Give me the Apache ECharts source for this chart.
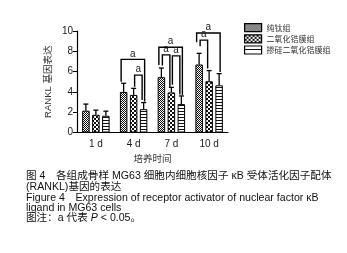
<!DOCTYPE html>
<html>
<head>
<meta charset="utf-8">
<script src="https://cdn.jsdelivr.net/npm/echarts@6/dist/echarts.min.js"></script>
<style>
  html, body { margin: 0; padding: 0; background: #fff; }
  #chart { width: 347px; height: 253px; }
</style>
</head>
<body>
<div id="chart"></div>
<script>
// RANKL expression per culture time and coating group
const categories = ['1 d', '4 d', '7 d', '10 d'];
const groupNames = ['纯钛组', '二氧化锆膜组', '掺硅二氧化锆膜组'];
const yTicks = [0, 2, 4, 6, 8, 10];

const pureTi = [2.15, 4.0, 5.45, 6.7];
const pureTiSD = [0.65, 0.85, 0.9, 1.1];
const zro2 = [1.75, 3.7, 3.95, 5.05];
const zro2SD = [0.45, 0.65, 0.5, 1.05];
const siZro2 = [1.65, 2.3, 2.8, 4.65];
const siZro2SD = [0.45, 0.65, 0.8, 1.15];

// significance brackets: category, bars joined, bar height and leg ends
const bracketCat = [1, 1, 2, 2, 2, 3, 3];
const bracketFrom = [0, 1, 0, 0, 1, 0, 0];
const bracketTo = [2, 2, 2, 1, 2, 2, 1];
const bracketTop = [7.2, 5.65, 8.4, 7.65, 7.55, 9.8, 9.1];
const bracketLeftEnd = [5.0, 4.5, 6.65, 6.6, 4.7, 8.9, 8.5];
const bracketRightEnd = [3.05, 3.2, 3.7, 4.5, 3.75, 5.95, 6.3];
const bracketLabel = 'a';

const means = [pureTi, zro2, siZro2];
const sds = [pureTiSD, zro2SD, siZro2SD];

const BAR_W = 7.5;
const BAR_STEP = 10;
const LATIN = '"Liberation Sans", Arial, "Noto Sans CJK SC", sans-serif';
const CJK = '"Noto Sans CJK SC", sans-serif';
const INK = '#1a1a1a';

function pattern(w, h, draw) {
  const c = document.createElement('canvas');
  c.width = w; c.height = h;
  const g = c.getContext('2d');
  g.fillStyle = '#fff';
  g.fillRect(0, 0, w, h);
  g.fillStyle = '#111';
  draw(g);
  return { image: c, repeat: 'repeat' };
}
const fineDots = pattern(2, 2, g => { g.fillRect(0, 0, 1, 1); g.fillRect(1, 1, 1, 1); });
const checker = pattern(4, 4, g => { g.fillRect(0, 0, 2, 2); g.fillRect(2, 2, 2, 2); });
const hLines = pattern(1, 3, g => { g.fillRect(0, 0, 1, 1); });
const hLineIcon = pattern(1, 8, g => { g.fillRect(0, 3, 1, 1); });
const fills = [fineDots, checker, hLines];

const barSeries = groupNames.map((name, i) => ({
  name: name,
  type: 'bar',
  data: means[i],
  barWidth: BAR_W,
  barGap: '33%',
  itemStyle: { color: fills[i], borderColor: '#000', borderWidth: 1 },
  emphasis: { disabled: true },
  z: 2
}));

const errData = [];
means.forEach((arr, g) => arr.forEach((m, c) => errData.push([c, m, sds[g][c], g])));

const errSeries = {
  type: 'custom',
  z: 4,
  clip: false,
  silent: true,
  encode: { x: 0, y: 1 },
  data: errData,
  renderItem: function (params, api) {
    const c = api.value(0), m = api.value(1), sd = api.value(2), g = api.value(3);
    const x = api.coord([c, 0])[0] + (g - 1) * BAR_STEP;
    const y0 = api.coord([c, m])[1];
    const y1 = api.coord([c, m + sd])[1];
    const st = { stroke: '#000', lineWidth: 1.3 };
    return {
      type: 'group',
      children: [
        { type: 'line', shape: { x1: x, y1: y0, x2: x, y2: y1 }, style: st },
        { type: 'line', shape: { x1: x - 2.5, y1: y1, x2: x + 2.5, y2: y1 }, style: st }
      ]
    };
  }
};

const bracketData = bracketCat.map((c, i) =>
  [c, bracketTop[i], bracketLeftEnd[i], bracketRightEnd[i], bracketFrom[i], bracketTo[i]]);

const bracketSeries = {
  type: 'custom',
  z: 5,
  clip: false,
  silent: true,
  encode: { x: 0, y: 1 },
  data: bracketData,
  renderItem: function (params, api) {
    const c = api.value(0);
    const from = api.value(4), to = api.value(5);
    const wide = (to - from) === 2;
    const cx = api.coord([c, 0])[0];
    const xl = cx + (from - 1) * BAR_STEP + (wide ? -2.5 : 1);
    const xr = cx + (to - 1) * BAR_STEP + (wide ? 1 : -1.5);
    const yt = api.coord([c, api.value(1)])[1];
    const yl = api.coord([c, api.value(2)])[1];
    const yr = api.coord([c, api.value(3)])[1];
    return {
      type: 'group',
      children: [
        {
          type: 'polyline',
          shape: { points: [[xl, yl], [xl, yt], [xr, yt], [xr, yr]] },
          style: { stroke: '#000', lineWidth: 1.4, fill: null }
        },
        {
          type: 'text',
          x: (xl + xr) / 2,
          y: yt - 0.5,
          style: {
            text: bracketLabel, fill: INK, fontSize: 10, fontFamily: LATIN,
            align: 'center', verticalAlign: 'bottom'
          }
        }
      ]
    };
  }
};

const captionLines = [
  { y: 176.5, text: '图 4　各组成骨样 MG63 细胞内细胞核因子 κB 受体活化因子配体' },
  { y: 187.5, text: '(RANKL)基因的表达' },
  { y: 198.5, text: 'Figure 4　Expression of receptor activator of nuclear factor κB' },
  { y: 208.5, text: 'ligand in MG63 cells' },
  { y: 218.5, text: '图注：a 代表 {i|P} < 0.05。' }
];

const chart = echarts.init(document.getElementById('chart'), null, { renderer: 'canvas' });
chart.setOption({
  animation: false,
  backgroundColor: '#fff',
  grid: { left: 77, right: 119, top: 31, bottom: 120.5, containLabel: false },
  legend: {
    orient: 'vertical',
    left: 239,
    top: 18,
    itemWidth: 17,
    itemHeight: 8,
    itemGap: 2,
    icon: 'rect',
    selectedMode: false,
    data: [
      { name: groupNames[0] },
      { name: groupNames[1] },
      { name: groupNames[2], itemStyle: { color: hLineIcon } }
    ],
    itemStyle: { borderColor: '#000', borderWidth: 1.2 },
    textStyle: { fontSize: 8, color: '#333', fontFamily: CJK, lineHeight: 8 }
  },
  xAxis: {
    type: 'category',
    data: categories,
    axisLine: { lineStyle: { color: '#000', width: 1.2 } },
    axisTick: { alignWithLabel: true, length: 3, lineStyle: { color: '#000' } },
    axisLabel: { fontSize: 10, color: INK, fontFamily: LATIN, margin: 7 },
    name: '培养时间',
    nameLocation: 'middle',
    nameGap: 21,
    nameTextStyle: { fontSize: 9.5, color: '#333', fontFamily: CJK }
  },
  yAxis: {
    type: 'value',
    min: yTicks[0],
    max: yTicks[yTicks.length - 1],
    interval: yTicks[1] - yTicks[0],
    splitLine: { show: false },
    axisLine: { show: true, lineStyle: { color: '#000', width: 1.2 } },
    axisTick: { show: true, length: 4, lineStyle: { color: '#000' } },
    axisLabel: { fontSize: 10, color: INK, fontFamily: LATIN, margin: 4 },
    name: 'RANKL 基因表达',
    nameLocation: 'middle',
    nameGap: 24,
    nameRotate: 90,
    nameTextStyle: { fontSize: 9.5, color: '#333', fontFamily: LATIN }
  },
  graphic: captionLines.map(l => ({
    type: 'text',
    x: 26,
    y: l.y,
    silent: true,
    style: {
      text: l.text,
      fill: '#111',
      fontSize: 10.6,
      fontFamily: LATIN,
      verticalAlign: 'middle',
      rich: { i: { fontStyle: 'italic', fontSize: 10.6, fontFamily: LATIN, fill: '#111' } }
    }
  })),
  series: barSeries.concat([errSeries, bracketSeries])
});
</script>
</body>
</html>
